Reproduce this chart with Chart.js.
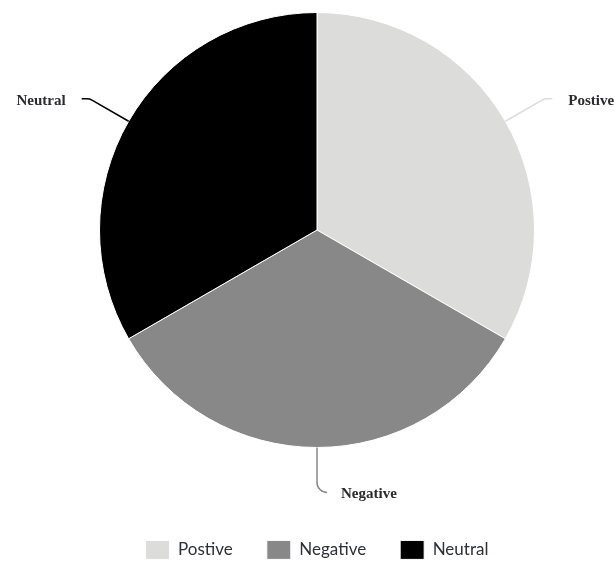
<!DOCTYPE html>
<html>
<head>
<meta charset="utf-8">
<title>Sentiment</title>
<script src="https://cdn.jsdelivr.net/npm/chart.js@4/dist/chart.umd.min.js"></script>
<style>
	html, body { margin: 0; padding: 0; background: #fff; }
	#sentiment { display: block; }
</style>
</head>
<body>
<canvas id="sentiment" width="616" height="561"></canvas>
<script>
var labels = ['Postive', 'Negative', 'Neutral'];
var counts = [1, 1, 1];
var colors = ['#dcdddb', '#888888', '#000000'];

// Leader lines with labels outside of each slice
var outsideLabels = {
	id: 'outsideLabels',
	afterDatasetsDraw: function( chart ) {
		var ctx = chart.ctx;
		var meta = chart.getDatasetMeta( 0 );
		ctx.save();
		meta.data.forEach( function( arc, i ) {
			var mid = ( arc.startAngle + arc.endAngle ) / 2;
			var dx = Math.cos( mid ), dy = Math.sin( mid );
			var r = arc.outerRadius;
			var ext = 45, tail = 8, gap = 16;
			var right = dx >= -1e-6;
			var x0 = arc.x + r * dx, y0 = arc.y + r * dy;
			var x1 = arc.x + ( r + ext ) * dx, y1 = arc.y + ( r + ext ) * dy;
			var x2 = x1 + ( right ? tail : -tail );
			ctx.beginPath();
			ctx.moveTo( x0, y0 );
			ctx.arcTo( x1, y1, x2, y1, 10 );
			ctx.lineTo( x2, y1 );
			ctx.strokeStyle = colors[i];
			ctx.lineWidth = 1.5;
			ctx.stroke();
			ctx.font = 'bold 15px "Liberation Serif", serif';
			ctx.fillStyle = '#2a2a30';
			ctx.textBaseline = 'middle';
			ctx.textAlign = right ? 'left' : 'right';
			ctx.fillText( labels[i], x2 + ( right ? gap : -gap ), y1 + 2 );
		} );
		ctx.restore();
	}
};

new Chart( document.getElementById( 'sentiment' ), {
	type: 'pie',
	data: {
		labels: labels,
		datasets: [ {
			data: counts,
			backgroundColor: colors,
			borderColor: '#ffffff',
			borderWidth: 1
		} ]
	},
	plugins: [ outsideLabels ],
	options: {
		responsive: false,
		animation: false,
		layout: {
			padding: { top: 12, left: 18, right: 0, bottom: 0 }
		},
		plugins: {
			tooltip: { enabled: false },
			legend: {
				position: 'bottom',
				maxHeight: 113,
				title: {
					display: true,
					text: '',
					padding: { top: 44, bottom: 0 }
				},
				labels: {
					boxWidth: 24,
					boxHeight: 19,
					padding: 34,
					color: '#2e3038',
					font: { family: 'Lato, "Open Sans", sans-serif', size: 17 }
				}
			}
		}
	}
} );
</script>
</body>
</html>
